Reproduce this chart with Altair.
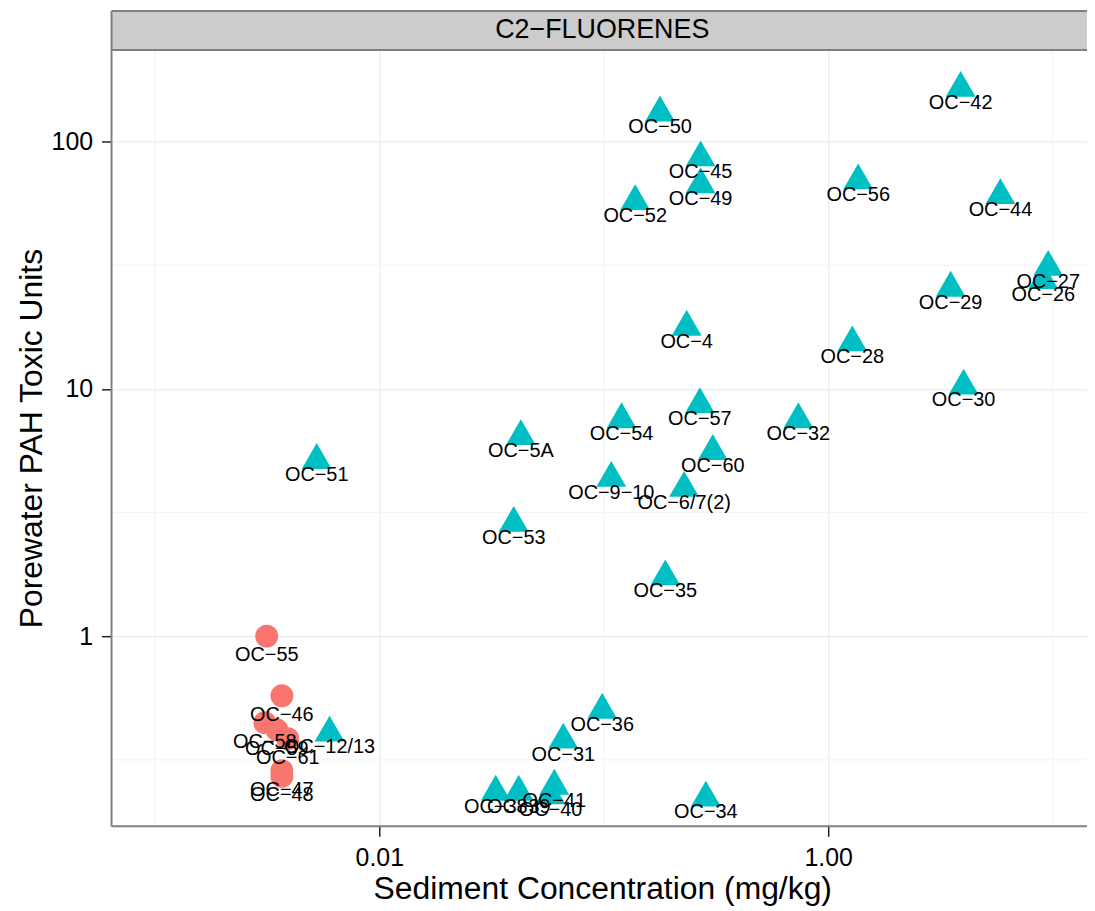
import altair as alt
import pandas as pd

# ---- data ----
sites = ["OC−42", "OC−50", "OC−45", "OC−49", "OC−52", "OC−56", "OC−44", "OC−27",
         "OC−26", "OC−29", "OC−4", "OC−28", "OC−30", "OC−57", "OC−32", "OC−54",
         "OC−5A", "OC−60", "OC−51", "OC−9−10", "OC−6/7(2)", "OC−53", "OC−35",
         "OC−36", "OC−31", "OC−34", "OC−12/13", "OC−38", "OC−39", "OC−41", "OC−40",
         "OC−55", "OC−46", "OC−58", "OC−59", "OC−61", "OC−47", "OC−48"]
sediment = [3.89, 0.178, 0.270, 0.270, 0.138, 1.36, 5.85, 9.55,
            9.08, 3.51, 0.234, 1.28, 4.01, 0.268, 0.736, 0.120,
            0.0427, 0.306, 0.00526, 0.108, 0.228, 0.0397, 0.188,
            0.0984, 0.0660, 0.285, 0.0060, 0.0330, 0.0418, 0.0602, 0.0579,
            0.00315, 0.00368, 0.00309, 0.00349, 0.00391, 0.00368, 0.00368]
toxic_units = [171, 136, 89.5, 69.7, 59.6, 72.3, 63.0, 32.3,
               28.6, 26.6, 18.5, 16.0, 10.7, 8.99, 7.82, 7.82,
               6.68, 5.82, 5.35, 4.53, 4.13, 2.98, 1.81,
               0.523, 0.396, 0.231, 0.423, 0.244, 0.244, 0.258, 0.236,
               1.00, 0.574, 0.447, 0.419, 0.385, 0.286, 0.271]
groups = ["Detected"] * 31 + ["Not detected"] * 7

group_names = ["Not detected", "Detected"]
group_colors = ["#F8766D", "#00BFC4"]
group_shapes = ["circle", "triangle-up"]
group_sizes = [529, 900]

strip_label = "C2−FLUORENES"
x_title = "Sediment Concentration (mg/kg)"
y_title = "Porewater PAH Toxic Units"
x_ticks = [0.01, 1.0]
y_ticks = [1, 10, 100]
x_minor = [0.001, 0.1, 10]
y_minor = [0.316, 3.16, 31.6]

df = pd.DataFrame({"site": sites, "sediment": sediment, "tu": toxic_units, "group": groups})
one = pd.DataFrame({"t": [strip_label]})

W, H = 980, 780
STRIP = 39
CENTER_X = 493  # centre of the (wider, cropped) panel of the reference
FONT = "Liberation Sans"
BORDER = "#7F7F7F"

xscale = alt.Scale(type="log", domain=[0.000641, 14.22], nice=False)
yscale = alt.Scale(type="log", domain=[0.17035, 234.6], nice=False)
xaxis = alt.Axis(values=x_ticks, format=".2f", title=x_title, grid=True, titlePadding=4,
                 titleX=CENTER_X, titleAlign="center")
yaxis = alt.Axis(values=y_ticks, format="d", title=y_title, grid=True, titlePadding=3)

minor_x = alt.Chart(pd.DataFrame({"v": x_minor})).mark_rule(color="#F3F3F3", strokeWidth=1).encode(
    x=alt.X("v:Q", scale=xscale, axis=xaxis))
minor_y = alt.Chart(pd.DataFrame({"v": y_minor})).mark_rule(color="#F3F3F3", strokeWidth=1).encode(
    y=alt.Y("v:Q", scale=yscale, axis=yaxis))

points = alt.Chart(df).mark_point(filled=True, opacity=1, strokeWidth=0).encode(
    x=alt.X("sediment:Q", scale=xscale, axis=xaxis),
    y=alt.Y("tu:Q", scale=yscale, axis=yaxis),
    shape=alt.Shape("group:N", scale=alt.Scale(domain=group_names, range=group_shapes), legend=None),
    color=alt.Color("group:N", scale=alt.Scale(domain=group_names, range=group_colors), legend=None),
    size=alt.Size("group:O", scale=alt.Scale(domain=group_names, range=group_sizes), legend=None),
)

labels = alt.Chart(df).mark_text(dy=19, fontSize=20, font=FONT, color="black", baseline="middle").encode(
    x=alt.X("sediment:Q", scale=xscale, axis=xaxis),
    y=alt.Y("tu:Q", scale=yscale, axis=yaxis),
    text="site:N",
)

strip_rect = alt.Chart(one).mark_rect(fill="#CCCCCC").encode(
    x=alt.value(0), x2=alt.value(W), y=alt.value(-STRIP), y2=alt.value(0))
strip_top = alt.Chart(one).mark_rule(color=BORDER, strokeWidth=2).encode(
    x=alt.value(0), x2=alt.value(W), y=alt.value(-STRIP))
strip_bottom = alt.Chart(one).mark_rule(color=BORDER, strokeWidth=2).encode(
    x=alt.value(0), x2=alt.value(W), y=alt.value(0))
left_border = alt.Chart(one).mark_rule(color=BORDER, strokeWidth=2).encode(
    x=alt.value(0), y=alt.value(-STRIP), y2=alt.value(H))
bottom_border = alt.Chart(one).mark_rule(color=BORDER, strokeWidth=2).encode(
    x=alt.value(0), x2=alt.value(W), y=alt.value(H))
strip_text = alt.Chart(one).mark_text(fontSize=27, font=FONT, color="black",
                                      baseline="middle", align="center").encode(
    x=alt.value(CENTER_X), y=alt.value(-STRIP / 2), text="t:N")

chart = alt.layer(
    minor_x, minor_y, points, labels,
    strip_rect, strip_top, strip_bottom, left_border, bottom_border, strip_text,
).properties(
    width=W, height=H,
    padding={"left": 104, "top": 40, "right": 0, "bottom": 82},
    autosize=alt.AutoSizeParams(type="none"),
).configure_view(stroke=None).configure_axis(
    labelFont=FONT, labelFontSize=25, labelColor="black", labelPadding=9,
    titleFont=FONT, titleFontSize=32, titleFontWeight="normal", titleColor="black",
    tickColor="#222222", tickSize=10, tickWidth=1.5,
    domain=False, gridColor="#EBEBEB", gridWidth=1.2,
)

chart.save("out.html", embed_options={"renderer": "svg", "actions": False})
